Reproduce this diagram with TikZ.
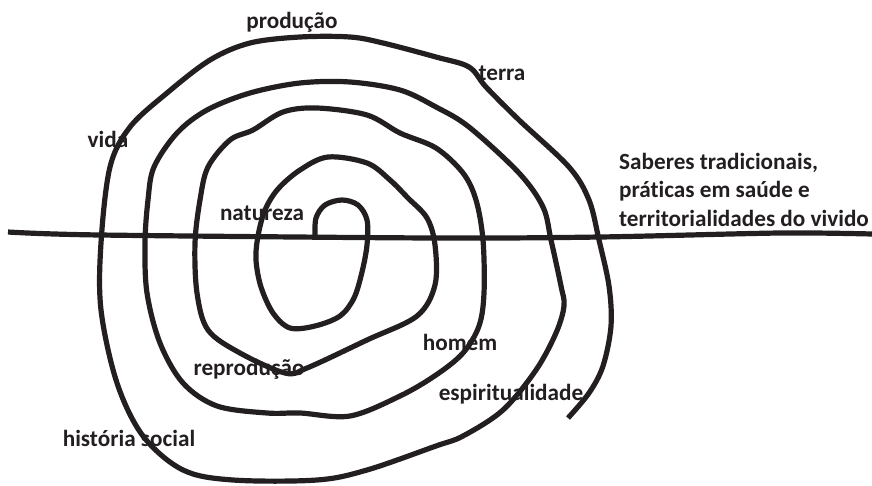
\documentclass[tikz,border=0pt]{standalone}
\usepackage{fontspec}
\setmainfont{Carlito}[RawFeature={-liga}]
\definecolor{ink}{RGB}{35,31,32}

\begin{document}
\begin{tikzpicture}[x=1pt,y=-1pt,
  lbl/.style={anchor=base,text=ink,font=\bfseries\fontsize{23.2}{28.5}\selectfont,inner sep=0pt},
  traco/.style={draw=ink,line width=5.2pt,line cap=butt,line join=round}]
\useasboundingbox (0,0) rectangle (872,485);
% labels:
\node[lbl] (producao) at (292,28) {produção};
\node[lbl] (terra) at (502,80) {terra};
\node[lbl] (vida) at (108,147) {vida};
\node[lbl] (natureza) at (262,220) {natureza};
\node[lbl,anchor=north west,align=left] (saberes) at (619,153) {Saberes tradicionais,\\práticas em saúde e\\territorialidades do vivido};
\node[lbl] (homem) at (460,350) {homem};
\node[lbl] (reproducao) at (249,375) {reprodução};
\node[lbl] (espiritualidade) at (511,400) {espiritualidade};
\node[lbl] (historia) at (129,446) {história social};
% horizontal line:
\draw[traco] plot[smooth,tension=0.5] coordinates {(8,232) (100,235) (433,238) (600,237) (780,233) (872,234)};
% spiral:
\draw[traco] plot[smooth,tension=0.55] coordinates {
  (315,236) (316,218) (325,205) (342,200) (358,205) (367,220) (367,245) (362,272)
  (354,298) (340,316) (315,326) (290,328) (273,313) (261,287) (256,260) (258,236)
  (265,210) (278,189) (300,170) (328,157) (367,163) (390,180) (408,198) (427,218)
  (435,245) (435,285) (417,316) (367,340) (307,368) (285,373) (240,353) (208,330)
  (197,293) (195,243) (200,200) (208,167) (230,140) (253,130) (283,112) (317,108)
  (367,115) (400,133) (436,148) (463,173) (476,200) (483,240) (484,293) (479,326)
  (463,353) (436,375) (400,396) (350,416) (300,413) (267,413) (217,406) (183,383)
  (160,343) (147,293) (145,243) (148,200) (154,167) (177,133) (207,110) (250,93)
  (300,83) (350,82) (400,90) (436,107) (469,127) (519,173) (543,207) (551,240)
  (561,286) (564,306) (556,333) (536,370) (503,410) (463,436) (436,446) (367,470)
  (317,480) (233,480) (183,470) (143,436) (117,383) (101,310) (101,243) (110,167)
  (130,127) (167,93) (210,60) (250,43) (300,37) (350,37) (383,43) (436,57)
  (469,67) (486,87) (519,120) (569,167) (589,200) (599,240) (609,286) (611,326)
  (603,366) (589,393) (568,418)};
\end{tikzpicture}
\end{document}
